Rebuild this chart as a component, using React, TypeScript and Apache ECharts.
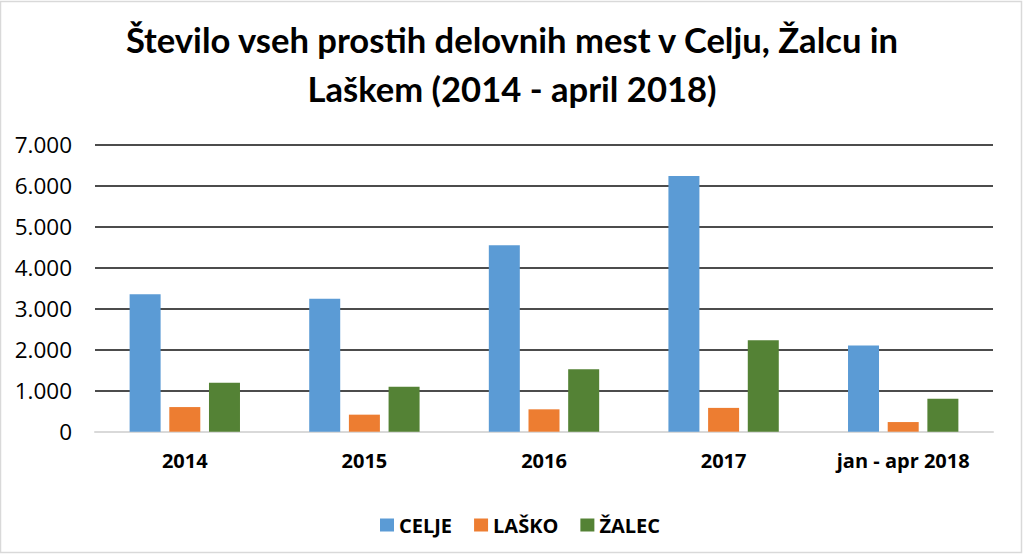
import React, { useEffect, useRef } from "react";
import * as echarts from "echarts";

const categories = ["2014", "2015", "2016", "2017", "jan - apr 2018"];
const celje = [3350, 3240, 4540, 6230, 2100];
const lasko = [600, 415, 545, 580, 235];
const zalec = [1195, 1095, 1520, 2225, 805];
const yTicks = [0, 1000, 2000, 3000, 4000, 5000, 6000, 7000];

const FONT = "Open Sans";
const TITLE_FONT = "Lato";

function fmt(v: number): string {
  return String(v).replace(/\B(?=(\d{3})+(?!\d))/g, ".");
}

export default function App() {
  const ref = useRef<HTMLDivElement>(null);

  useEffect(() => {
    document.body.style.margin = "0";
    const chart = echarts.init(ref.current!, null, { renderer: "svg" });
    chart.setOption({
      animation: false,
      backgroundColor: "#ffffff",
      title: {
        text: "Število vseh prostih delovnih mest v Celju, Žalcu in\nLaškem (2014 - april 2018)",
        left: "center",
        top: 10,
        textStyle: {
          fontFamily: TITLE_FONT,
          fontWeight: "bold",
          fontSize: 34.6,
          lineHeight: 49,
          color: "#000",
          align: "center",
        },
      },
      legend: {
        left: 375,
        top: 510,
        itemWidth: 14,
        itemHeight: 13,
        itemGap: 22,
        icon: "rect",
        textStyle: { fontFamily: FONT, fontWeight: "bold", fontSize: 20, color: "#000" },
        data: ["CELJE", "LAŠKO", "ŽALEC"],
      },
      grid: { left: 95, right: 31, top: 144.3, bottom: 122.3 },
      xAxis: {
        type: "category",
        data: categories,
        axisLine: { lineStyle: { color: "#d9d9d9", width: 2 } },
        axisTick: { show: false },
        axisLabel: {
          margin: 19,
          fontFamily: FONT,
          fontWeight: "bold",
          fontSize: 20,
          color: "#000",
        },
      },
      yAxis: {
        type: "value",
        min: yTicks[0],
        max: yTicks[yTicks.length - 1],
        interval: 1000,
        axisLine: { show: false },
        axisTick: { show: false },
        splitLine: { lineStyle: { color: "#111", width: 1.5 } },
        axisLabel: {
          margin: 23,
          fontFamily: FONT,
          fontSize: 22.5,
          color: "#000",
          formatter: (v: number) => fmt(v),
        },
      },
      series: [
        { name: "CELJE", type: "bar", data: celje, barWidth: 31, barGap: "28%", itemStyle: { color: "#5B9BD5" } },
        { name: "LAŠKO", type: "bar", data: lasko, barWidth: 31, barGap: "28%", itemStyle: { color: "#ED7D31" } },
        { name: "ŽALEC", type: "bar", data: zalec, barWidth: 31, barGap: "28%", itemStyle: { color: "#548235" } },
      ],
      graphic: [
        {
          type: "rect",
          shape: { x: 0.5, y: 1.5, width: 1021, height: 551 },
          style: { fill: "none", stroke: "#d9d9d9", lineWidth: 1.5 },
          silent: true,
        },
      ],
    });
    return () => chart.dispose();
  }, []);

  return <div ref={ref} style={{ width: 1024, height: 554 }} />;
}
